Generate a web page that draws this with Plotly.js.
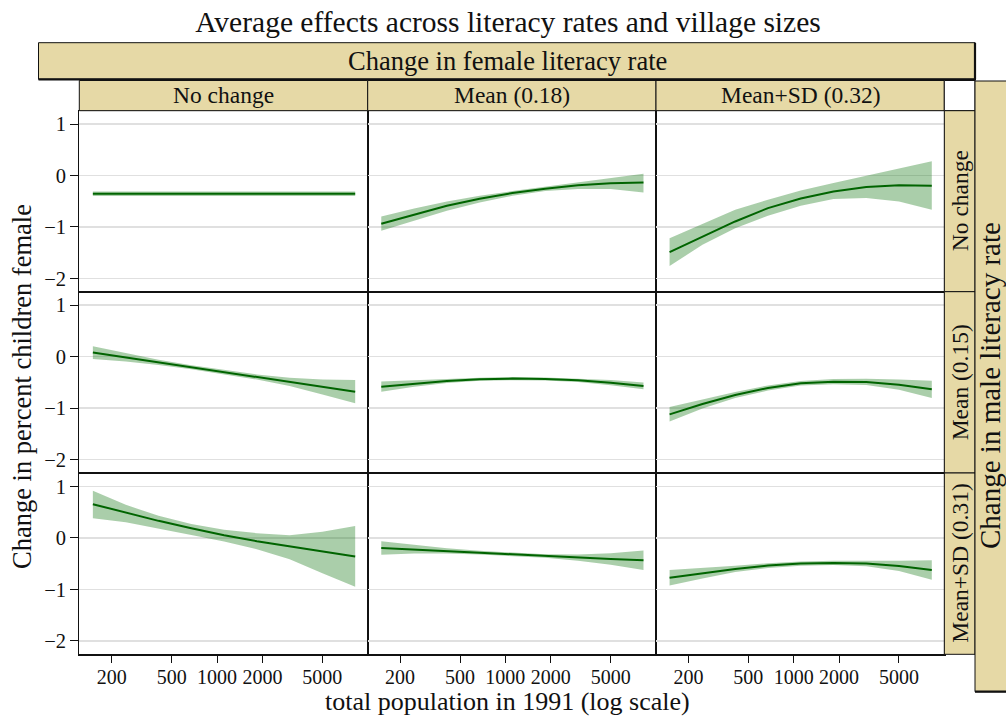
<!DOCTYPE html>
<html>
<head>
<meta charset="utf-8">
<script src="https://cdn.plot.ly/plotly-3.0.1.min.js"></script>
<style>html,body{margin:0;padding:0;background:#fff;}#chart{width:1006px;height:717px;}</style>
</head>
<body>
<div id="chart"></div>
<script>
// ---- data ----
const popX = [150, 248, 409, 675, 1114, 1838, 3034, 5005, 8260];
const femaleLevels = ["No change", "Mean (0.18)", "Mean+SD (0.32)"];
const maleLevels = ["No change", "Mean (0.15)", "Mean+SD (0.31)"];
const xTickVals = [200, 500, 1000, 2000, 5000];
const xTickText = ["200", "500", "1000", "2000", "5000"];
const yTickVals = [-2, -1, 0, 1];
const yTickText = ["\u22122", "\u22121", "0", "1"];

// row = male change, col = female change
const fit_r1c1 = [-0.355, -0.355, -0.355, -0.355, -0.355, -0.355, -0.355, -0.355, -0.355];
const lo_r1c1  = [-0.400, -0.400, -0.400, -0.400, -0.400, -0.400, -0.400, -0.400, -0.400];
const hi_r1c1  = [-0.310, -0.310, -0.310, -0.310, -0.310, -0.310, -0.310, -0.310, -0.310];

const fit_r1c2 = [-0.940, -0.764, -0.589, -0.452, -0.342, -0.257, -0.192, -0.153, -0.134];
const lo_r1c2  = [-1.076, -0.875, -0.686, -0.524, -0.394, -0.303, -0.264, -0.264, -0.329];
const hi_r1c2  = [-0.797, -0.641, -0.504, -0.394, -0.303, -0.218, -0.134, -0.056, 0.035];

const fit_r1c3 = [-1.492, -1.187, -0.894, -0.634, -0.446, -0.310, -0.225, -0.192, -0.199];
const lo_r1c3  = [-1.758, -1.349, -1.024, -0.784, -0.589, -0.459, -0.439, -0.504, -0.667];
const hi_r1c3  = [-1.219, -0.940, -0.667, -0.472, -0.290, -0.147, -0.004, 0.126, 0.275];

const fit_r2c1 = [0.078, -0.017, -0.112, -0.206, -0.301, -0.396, -0.491, -0.586, -0.681];
const lo_r2c1  = [-0.047, -0.097, -0.162, -0.246, -0.341, -0.446, -0.571, -0.736, -0.906];
const hi_r2c1  = [0.203, 0.063, -0.062, -0.166, -0.261, -0.346, -0.411, -0.446, -0.456];

const fit_r2c2 = [-0.584, -0.525, -0.473, -0.440, -0.427, -0.434, -0.460, -0.506, -0.570];
const lo_r2c2  = [-0.684, -0.585, -0.513, -0.470, -0.457, -0.464, -0.495, -0.556, -0.635];
const hi_r2c2  = [-0.484, -0.465, -0.433, -0.410, -0.397, -0.404, -0.425, -0.456, -0.505];

const fit_r2c3 = [-1.121, -0.920, -0.745, -0.609, -0.518, -0.486, -0.492, -0.545, -0.635];
const lo_r2c3  = [-1.261, -1.010, -0.805, -0.659, -0.563, -0.536, -0.552, -0.645, -0.805];
const hi_r2c3  = [-0.981, -0.830, -0.685, -0.559, -0.473, -0.436, -0.432, -0.445, -0.467];

const fit_r3c1 = [0.655, 0.493, 0.331, 0.188, 0.052, -0.065, -0.169, -0.272, -0.363];
const lo_r3c1  = [0.383, 0.305, 0.188, 0.058, -0.071, -0.220, -0.415, -0.687, -0.947];
const hi_r3c1  = [0.914, 0.642, 0.428, 0.272, 0.156, 0.091, 0.052, 0.117, 0.233];

const fit_r3c2 = [-0.195, -0.221, -0.253, -0.286, -0.318, -0.351, -0.383, -0.409, -0.435];
const lo_r3c2  = [-0.325, -0.301, -0.303, -0.321, -0.348, -0.386, -0.443, -0.519, -0.625];
const hi_r3c2  = [-0.065, -0.141, -0.203, -0.251, -0.288, -0.316, -0.323, -0.299, -0.245];

const fit_r3c3 = [-0.772, -0.687, -0.603, -0.538, -0.499, -0.486, -0.499, -0.545, -0.623];
const lo_r3c3  = [-0.922, -0.787, -0.663, -0.583, -0.539, -0.526, -0.549, -0.645, -0.813];
const hi_r3c3  = [-0.622, -0.587, -0.543, -0.493, -0.459, -0.446, -0.449, -0.445, -0.433];

const panels = [
  [fit_r1c1, lo_r1c1, hi_r1c1], [fit_r1c2, lo_r1c2, hi_r1c2], [fit_r1c3, lo_r1c3, hi_r1c3],
  [fit_r2c1, lo_r2c1, hi_r2c1], [fit_r2c2, lo_r2c2, hi_r2c2], [fit_r2c3, lo_r2c3, hi_r2c3],
  [fit_r3c1, lo_r3c1, hi_r3c1], [fit_r3c2, lo_r3c2, hi_r3c2], [fit_r3c3, lo_r3c3, hi_r3c3]
];

// ---- layout geometry (pixels) ----
const W = 1006, H = 717;
const X = px => px / W;
const Y = py => 1 - py / H;
const colB = [79.3, 367.7, 656.0, 944.3];
const rowB = [110.7, 291.7, 473.0, 654.3];
const FONT = "Liberation Serif, Times New Roman, serif";
const STRIP = "#e6d9a6";

const traces = [];
const layout = {
  width: W, height: H,
  margin: {l: 0, r: 0, t: 0, b: 0, pad: 0},
  paper_bgcolor: "#fff", plot_bgcolor: "#fff",
  showlegend: false,
  font: {family: FONT, color: "#111"},
  title: {text: "Average effects across literacy rates and village sizes",
          x: X(508), xref: "paper", xanchor: "center",
          y: 1 - 22 / H, yref: "container", yanchor: "middle",
          font: {family: FONT, size: 29.5, color: "#111"}},
  shapes: [], annotations: []
};

for (let r = 0; r < 3; r++) {
  for (let c = 0; c < 3; c++) {
    const i = r * 3 + c;
    const n = i + 1;
    const xa = n === 1 ? "x" : "x" + n;
    const ya = n === 1 ? "y" : "y" + n;
    const [fit, lo, hi] = panels[i];
    traces.push({
      x: popX.concat(popX.slice().reverse()),
      y: hi.concat(lo.slice().reverse()),
      xaxis: xa, yaxis: ya, type: "scatter", mode: "lines",
      fill: "toself", fillcolor: "rgba(20,120,20,0.36)",
      line: {width: 0, color: "rgba(0,0,0,0)"}, hoverinfo: "skip"
    });
    traces.push({
      x: popX, y: fit, xaxis: xa, yaxis: ya, type: "scatter", mode: "lines",
      line: {color: "#006400", width: 2}
    });
    const bottom = r === 2, left = c === 0;
    layout[n === 1 ? "xaxis" : "xaxis" + n] = {
      type: "log", range: [2.086, 4.0],
      domain: [X(colB[c]), X(colB[c + 1])],
      anchor: ya, showgrid: false, zeroline: false,
      showline: true, mirror: true, linecolor: "#111", linewidth: 1.2,
      tickmode: "array", tickvals: xTickVals, ticktext: xTickText,
      ticks: bottom ? "outside" : "", ticklen: 7, tickcolor: "#111", tickwidth: 1,
      showticklabels: bottom, ticklabelstandoff: -3,
      tickfont: {family: FONT, size: 20, color: "#111"}
    };
    layout[n === 1 ? "yaxis" : "yaxis" + n] = {
      range: [-2.26, 1.26],
      domain: [Y(rowB[r + 1]), Y(rowB[r])],
      anchor: xa, showgrid: true, gridcolor: "#e0e0e0", gridwidth: 1.5,
      zeroline: false,
      showline: true, mirror: true, linecolor: "#111", linewidth: 1.2,
      tickmode: "array", tickvals: yTickVals, ticktext: yTickText,
      ticks: left ? "outside" : "", ticklen: 8, tickcolor: "#111", tickwidth: 1,
      showticklabels: left,
      tickfont: {family: FONT, size: 20.5, color: "#111"}
    };
  }
}

function rect(x0, y0, x1, y1, fill) {
  layout.shapes.push({type: "rect", xref: "paper", yref: "paper",
    x0: X(x0), x1: X(x1), y0: Y(y1), y1: Y(y0),
    fillcolor: fill, line: {color: "#111", width: 1}, layer: "above"});
}
function seg(x0, y0, x1, y1, w) {
  layout.shapes.push({type: "line", xref: "paper", yref: "paper",
    x0: X(x0), x1: X(x1), y0: Y(y0), y1: Y(y1),
    line: {color: "#111", width: w}, layer: "above"});
}
function label(text, x, y, size, angle) {
  layout.annotations.push({text: text, xref: "paper", yref: "paper",
    x: X(x), y: Y(y), xanchor: "center", yanchor: "middle",
    textangle: angle || 0, showarrow: false,
    font: {family: FONT, size: size, color: "#111"}});
}

// top (female) strip
rect(38.5, 42.7, 975, 79.3, STRIP);
seg(38.5, 79.3, 976, 79.3, 2.2);
seg(975, 42.7, 975, 79.3, 2.2);
label("Change in female literacy rate", 507, 61, 26.5);

// column strips
for (let c = 0; c < 3; c++) {
  rect(colB[c], 80.5, colB[c + 1], rowB[0], STRIP);
  label(femaleLevels[c], (colB[c] + colB[c + 1]) / 2, 95.5, 23.5);
}
rect(colB[3], 80.5, 975, rowB[0], "#ffffff");

// row strips
for (let r = 0; r < 3; r++) {
  rect(colB[3], rowB[r], 975, rowB[r + 1], STRIP);
  label(maleLevels[r], 960, (rowB[r] + rowB[r + 1]) / 2, 23.5, -90);
}

// outer (male) strip
rect(975, 81, 1012, 691.7, STRIP);
seg(975, 691.7, 1012, 691.7, 2.2);
label("Change in male literacy rate", 990, 386, 29, -90);

// axis titles
label("total population in 1991 (log scale)", 507, 701, 26);
label("Change in percent children female", 22, 387, 26.5, -90);

Plotly.newPlot("chart", traces, layout, {displayModeBar: false, staticPlot: true});
</script>
</body>
</html>
